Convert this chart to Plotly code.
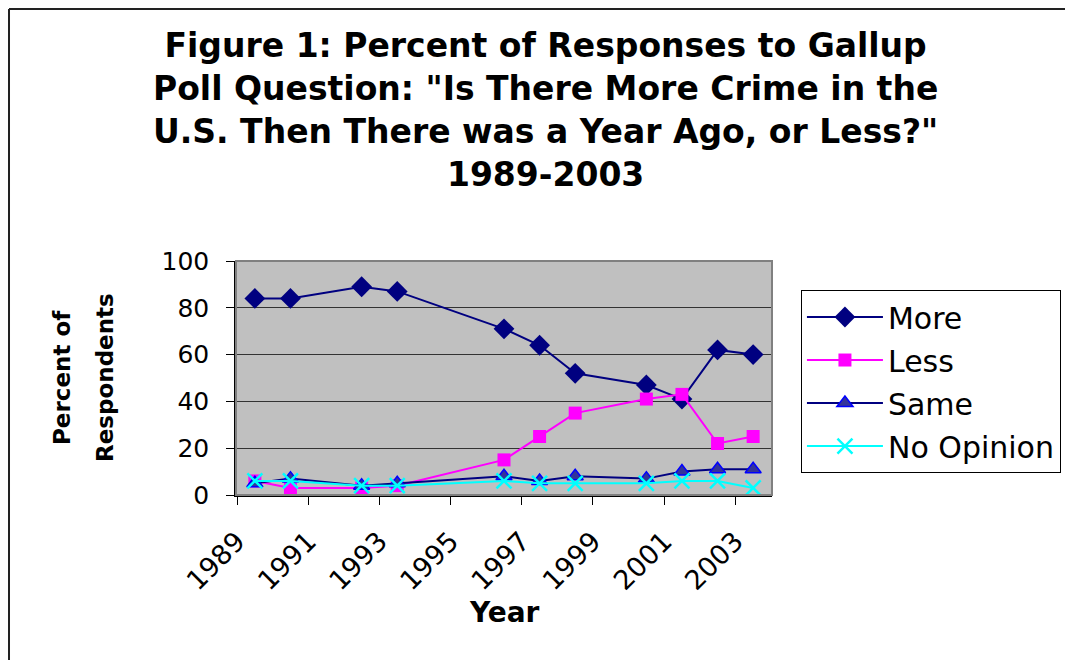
import plotly.graph_objects as go

years = [1989, 1990, 1992, 1993, 1996, 1997, 1998, 2000, 2001, 2002, 2003]
more = [84, 84, 89, 87, 71, 64, 52, 47, 41, 62, 60]
less = [6, 3, 3, 4, 15, 25, 35, 41, 43, 22, 25]
same = [5, 7, 4, 5, 8, 6, 8, 7, 10, 11, 11]
no_opinion = [6, 6, 4, 4, 6, 5, 5, 5, 6, 6, 3]

tick_years = [1989, 1991, 1993, 1995, 1997, 1999, 2001, 2003]
tick_labels = [str(y) for y in tick_years]
y_ticks = [0, 20, 40, 60, 80, 100]

title_text = ("Figure 1: Percent of Responses to Gallup<br>"
              "Poll Question: \"Is There More Crime in the<br>"
              "U.S. Then There was a Year Ago, or Less?\"<br>"
              "1989-2003")

FONT = "DejaVu Sans"

fig = go.Figure()
fig.add_trace(go.Scatter(
    x=years, y=more, name="More", mode="lines+markers", legendgroup="a",
    line=dict(color="#000080", width=2),
    marker=dict(symbol="diamond", size=16, color="#000080")))
fig.add_trace(go.Scatter(
    x=years, y=less, name="Less", mode="lines+markers", legendgroup="b",
    line=dict(color="#FF00FF", width=2),
    marker=dict(symbol="square", size=13, color="#FF00FF")))
fig.add_trace(go.Scatter(
    x=years, y=same, name="Same", mode="lines+markers", legendgroup="c",
    line=dict(color="#000080", width=2),
    marker=dict(symbol="triangle-up", size=14, color="#333399",
                line=dict(color="#0000FF", width=1.5))))
fig.add_trace(go.Scatter(
    x=years, y=no_opinion, name="No Opinion", mode="lines+markers", legendgroup="d",
    line=dict(color="#00FFFF", width=2),
    marker=dict(symbol="x-thin-open", size=15, color="#00FFFF",
                line=dict(color="#00FFFF", width=2.5))))

fig.update_layout(
    width=1065, height=652,
    margin=dict(l=228, r=301, t=253, b=165),
    paper_bgcolor="white", plot_bgcolor="#C0C0C0",
    font=dict(family=FONT, color="black", size=25),
    showlegend=True,
    legend=dict(x=1.054, y=0.876, xanchor="left", yanchor="top",
                bgcolor="white", bordercolor="black", borderwidth=1,
                font=dict(family=FONT, size=30, color="black"),
                traceorder="grouped", tracegroupgap=1, itemwidth=76),
    xaxis=dict(range=[1988.47, 2003.53], tickvals=[t - 0.5 for t in tick_years],
               ticktext=tick_labels, tickangle=-45, showgrid=False,
               ticks="outside", ticklen=8, tickcolor="black",
               showline=True, linecolor="black", linewidth=1.5,
               tickfont=dict(family=FONT, size=27, color="black"),
               zeroline=False, ticklabelstandoff=10),
    yaxis=dict(range=[0, 100], tickvals=y_ticks, showgrid=True,
               gridcolor="#333333", gridwidth=1,
               ticks="outside", ticklen=8, tickcolor="black",
               showline=True, linecolor="black", linewidth=1.5,
               tickfont=dict(family=FONT, size=25, color="black"),
               zeroline=False, ticklabelstandoff=12),
)

# plot area border (gray)
fig.add_shape(type="rect", xref="paper", yref="paper", x0=0, y0=0, x1=1, y1=1,
              line=dict(color="#808080", width=2), layer="above")
# chart outer border (left and top)
fig.add_shape(type="line", xref="paper", yref="paper",
              x0=-0.4235, x1=-0.4235, y0=-0.71, y1=2.077,
              line=dict(color="#222222", width=2))
fig.add_shape(type="line", xref="paper", yref="paper",
              x0=-0.4235, x1=1.57, y0=2.077, y1=2.077,
              line=dict(color="#222222", width=2))

fig.add_annotation(text="<b>" + title_text + "</b>", xref="paper", yref="paper",
                   x=0.5765, y=1.645, xanchor="center", yanchor="middle",
                   showarrow=False, font=dict(family=FONT, size=33, color="black"))
fig.add_annotation(text="<b>Year</b>", xref="paper", yref="paper",
                   x=0.5, y=-0.5, xanchor="center", yanchor="middle",
                   showarrow=False, font=dict(family=FONT, size=28, color="black"))
fig.add_annotation(text="<b>Percent of</b>", xref="paper", yref="paper",
                   x=-0.3246, y=0.5, xanchor="center", yanchor="middle", textangle=-90,
                   showarrow=False, font=dict(family=FONT, size=23, color="black"))
fig.add_annotation(text="<b>Respondents</b>", xref="paper", yref="paper",
                   x=-0.2444, y=0.5, xanchor="center", yanchor="middle", textangle=-90,
                   showarrow=False, font=dict(family=FONT, size=23, color="black"))

fig.write_html("out.html")
